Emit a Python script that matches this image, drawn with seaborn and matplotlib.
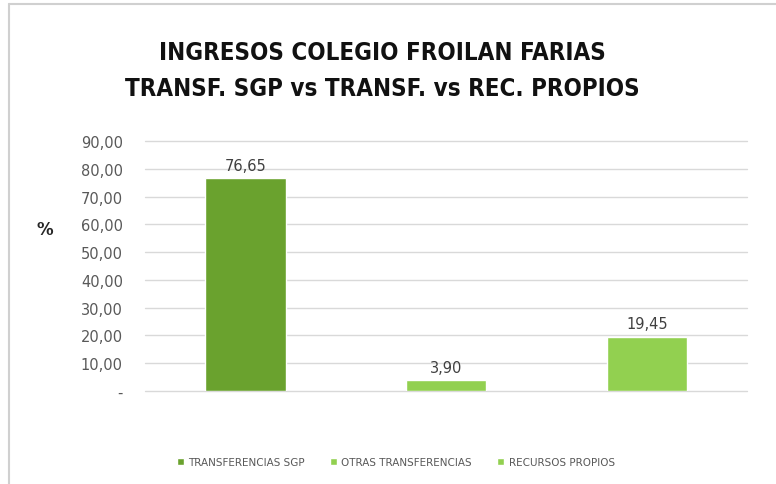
import numpy as np
import pandas as pd
import matplotlib.pyplot as plt
import matplotlib.ticker as mticker
from matplotlib.lines import Line2D
import seaborn as sns

categorias = ['TRANSFERENCIAS SGP', 'OTRAS TRANSFERENCIAS', 'RECURSOS PROPIOS']
porcentajes = [76.65, 3.90, 19.45]
colores = ['#6aa22e', '#92d050', '#92d050']
yticks = [0, 10, 20, 30, 40, 50, 60, 70, 80, 90]
titulo = 'INGRESOS COLEGIO FROILAN FARIAS\nTRANSF. SGP vs TRANSF. vs REC. PROPIOS'

df = pd.DataFrame({'categoria': categorias, 'pct': porcentajes})

sns.set_style('white')
plt.rcParams['font.family'] = ['DejaVu Sans']

fig = plt.figure(figsize=(7.76, 4.85), dpi=100)
ax = fig.add_axes([0.187, 0.1918, 0.776, 0.5154])

sns.barplot(data=df, x='categoria', y='pct', hue='categoria',
            palette=colores, width=0.4, ax=ax, legend=True, saturation=1)

ax.set_ylim(0, 90)
ax.set_xlim(-0.5, 2.5)
ax.set_yticks(yticks)
ax.yaxis.set_major_formatter(mticker.FuncFormatter(
    lambda v, p: '-' if v == 0 else f'{v:.2f}'.replace('.', ',')))
ax.tick_params(axis='y', length=0, pad=16, labelsize=10.5, labelcolor='#595959')
ax.set_xticks([])
ax.set_xlabel('')
ax.set_ylabel('')
ax.grid(axis='y', color='#d9d9d9', lw=1)
ax.set_axisbelow(True)
for gl in ax.get_ygridlines():
    gl.set_clip_on(False)
for s in ax.spines.values():
    s.set_visible(False)

for cont in ax.containers:
    ax.bar_label(cont, labels=[f'{v:.2f}'.replace('.', ',') for v in cont.datavalues],
                 padding=4, fontsize=10.5, color='#404040')

fig.text(0.058, 0.525, '%', fontsize=12, fontweight='bold', ha='center', va='center')

fig.text(0.493, 0.853, titulo, ha='center', va='center', fontsize=17.3,
         fontweight='bold', fontstretch='condensed', linespacing=1.65,
         family=['DejaVu Sans'], color='#111111')

sns.move_legend(ax, 'center', bbox_to_anchor=(0.5, -0.095), bbox_transform=fig.transFigure,
                ncol=3, frameon=False, title=None, fontsize=7.5, handlelength=0.7,
                handleheight=0.7, handletextpad=0.4, columnspacing=2.4)
for t in ax.get_legend().get_texts():
    t.set_color('#595959')
ax.get_legend().set_bbox_to_anchor((0.51, 0.045), transform=fig.transFigure)

# marco gris del grafico
fig.add_artist(Line2D([9 / 776, 1], [1 - 5 / 485, 1 - 5 / 485], color='#d0d0d0', lw=1.5))
fig.add_artist(Line2D([9 / 776, 9 / 776], [0, 1 - 5 / 485], color='#d0d0d0', lw=1.5))

fig.savefig('out.png', dpi=100)
